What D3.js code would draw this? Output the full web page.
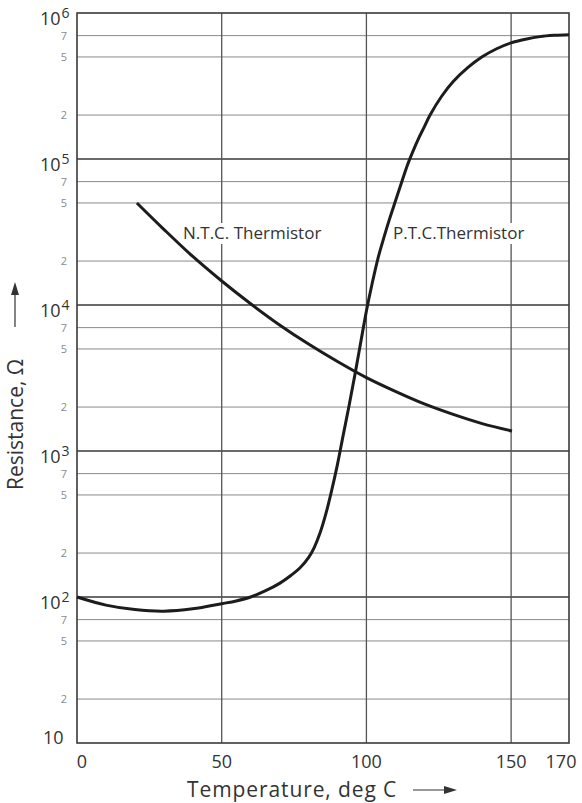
<!DOCTYPE html>
<html>
<head>
<meta charset="utf-8">
<script src="https://cdn.jsdelivr.net/npm/d3@7"></script>
<style>
  html, body { margin: 0; padding: 0; background: #fff; }
  svg { display: block; }
  text { font-family: "Open Sans", "DejaVu Sans", sans-serif; fill: #333; }
</style>
</head>
<body>
<svg id="chart" width="582" height="803"></svg>
<script>
// Temperature (deg C) axis ticks
const xTicks = [0, 50, 100, 150, 170];
const xGrid = [50, 100, 150];

// Resistance (ohm) decades and intermediate graduations
const decades = [10, 100, 1000, 10000, 100000, 1000000];
const decadeExp = [1, 2, 3, 4, 5, 6];
const minorSteps = [2, 5, 7];

// P.T.C. thermistor curve
const ptcTemp = [0, 10, 20, 30, 40, 50, 55, 60, 65, 70, 74, 77, 80, 82, 84, 86, 88,
  90, 92, 94, 96, 98, 100, 102, 104, 106, 108, 110, 112, 114, 116, 118, 120, 122,
  126, 130, 135, 140, 145, 150, 155, 160, 165, 170];
const ptcRes = [100, 88, 82, 80, 83, 90, 94, 100, 110, 124, 141, 158, 186, 219, 275, 372, 537,
  810, 1290, 2040, 3310, 5500, 9100, 14100, 20900, 28800, 38900, 51300, 67600, 89000, 112000, 138000, 166000, 200000,
  269000, 339000, 422000, 501000, 569000, 624000, 661000, 689000, 703000, 710000];

// N.T.C. thermistor curve
const ntcTemp = [20.7, 30, 40, 50, 60, 70, 80, 90, 100, 110, 120, 130, 140, 150.3];
const ntcRes  = [50000, 33000, 21500, 14600, 10200, 7300, 5400, 4100, 3180, 2560, 2100, 1780, 1540, 1370];

const svg = d3.select("#chart");
const plotLeft = 77, plotRight = 569, plotTop = 13, plotBottom = 743;

const x = d3.scaleLinear().domain([0, 170]).range([plotLeft, plotRight]);
const y = d3.scaleLog().domain([10, 1e6]).range([plotBottom, plotTop]);

// intermediate horizontal lines (2, 5, 7 within every decade)
const minorVals = [];
decades.slice(0, -1).forEach(d => minorSteps.forEach(m => minorVals.push({ v: d * m, m })));

const grid = svg.append("g");
grid.selectAll("line.minor").data(minorVals).join("line")
  .attr("class", "minor")
  .attr("x1", plotLeft).attr("x2", plotRight)
  .attr("y1", d => y(d.v)).attr("y2", d => y(d.v))
  .attr("stroke", "#8a8a8a").attr("stroke-width", 1);

grid.selectAll("line.major").data(decades.slice(1, -1)).join("line")
  .attr("class", "major")
  .attr("x1", plotLeft).attr("x2", plotRight)
  .attr("y1", d => y(d)).attr("y2", d => y(d))
  .attr("stroke", "#3a3a3a").attr("stroke-width", 1.6);

grid.selectAll("line.vert").data(xGrid).join("line")
  .attr("class", "vert")
  .attr("x1", d => x(d)).attr("x2", d => x(d))
  .attr("y1", plotTop).attr("y2", plotBottom)
  .attr("stroke", "#555").attr("stroke-width", 1.3);

// frame
svg.append("rect")
  .attr("x", plotLeft).attr("y", plotTop)
  .attr("width", plotRight - plotLeft).attr("height", plotBottom - plotTop)
  .attr("fill", "none").attr("stroke", "#3a3a3a").attr("stroke-width", 1.6);

// minor labels
svg.append("g").selectAll("text").data(minorVals).join("text")
  .attr("x", 67).attr("y", d => y(d.v) + 4)
  .attr("text-anchor", "end")
  .attr("font-size", 11)
  .style("fill", "#8a8a8a")
  .text(d => d.m);

// decade labels
const decG = svg.append("g").selectAll("text").data(decades).join("text")
  .attr("x", d => d === 10 ? 43 : 40)
  .attr("y", d => d === 10 ? y(d) + 1 : y(d) + 12)
  .attr("text-anchor", "start")
  .attr("font-size", 18);
decG.append("tspan").text("10");
decG.filter(d => decadeExp[decades.indexOf(d)] > 1).append("tspan")
  .attr("dy", -7).attr("dx", 1).attr("font-size", 14)
  .text(d => decadeExp[decades.indexOf(d)]);

// x tick labels
svg.append("g").selectAll("text").data(xTicks).join("text")
  .attr("x", d => x(d) + (d === 170 ? -8 : d === 0 ? 5 : 0))
  .attr("y", 768)
  .attr("text-anchor", "middle")
  .attr("font-size", 18)
  .text(d => d);

// axis titles
svg.append("text")
  .attr("x", 187).attr("y", 797)
  .attr("font-size", 21)
  .attr("letter-spacing", 0.9)
  .text("Temperature, deg C");
svg.append("line")
  .attr("x1", 413).attr("x2", 448).attr("y1", 790).attr("y2", 790)
  .attr("stroke", "#333").attr("stroke-width", 1.2);
svg.append("path")
  .attr("d", "M457,790 L444,786 L444,794 Z").attr("fill", "#333");

svg.append("text")
  .attr("transform", "translate(23,490) rotate(-90)")
  .attr("font-size", 21)
  .text("Resistance, \u03A9");
svg.append("line")
  .attr("x1", 15).attr("x2", 15).attr("y1", 327).attr("y2", 292)
  .attr("stroke", "#333").attr("stroke-width", 1.2);
svg.append("path")
  .attr("d", "M15,282 L11,295 L19,295 Z").attr("fill", "#333");

// curves
const line = d3.line().x(d => x(d[0])).y(d => y(d[1])).curve(d3.curveCatmullRom.alpha(0.5));
svg.append("path")
  .datum(ptcTemp.map((t, i) => [t, ptcRes[i]]))
  .attr("d", line)
  .attr("fill", "none").attr("stroke", "#1c1c1c").attr("stroke-width", 3);
svg.append("path")
  .datum(ntcTemp.map((t, i) => [t, ntcRes[i]]))
  .attr("d", line)
  .attr("fill", "none").attr("stroke", "#1c1c1c").attr("stroke-width", 3);

// curve labels (white backing breaks the grid under the text)
const labels = [
  { text: "N.T.C. Thermistor", x: 183, y: 239 },
  { text: "P.T.C.Thermistor", x: 393, y: 239 }
];
const labelG = svg.append("g");
labels.forEach(l => {
  const t = labelG.append("text").attr("x", l.x).attr("y", l.y)
    .attr("font-size", 17).text(l.text);
  const b = t.node().getBBox();
  labelG.insert("rect", () => t.node())
    .attr("x", b.x - 2).attr("y", b.y + 2).attr("width", b.width + 4).attr("height", b.height - 2)
    .attr("fill", "#fff");
});
</script>
</body>
</html>
